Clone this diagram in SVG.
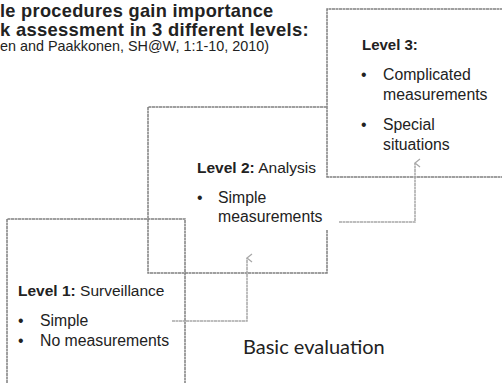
<svg xmlns="http://www.w3.org/2000/svg" width="502" height="383" viewBox="0 0 502 383">
<style>
.box{fill:none;stroke:#808080;stroke-width:1.5;stroke-dasharray:3 0.5}
.conn{fill:none;stroke:#a8a8a8;stroke-width:1.5;stroke-dasharray:3 0.5}
.t{font-family:"Liberation Sans",Arial,sans-serif;fill:#222}
.h{font-weight:bold}
.b{font-size:15.8px}
</style>
<defs>
<marker id="ah" markerWidth="10" markerHeight="10" refX="5" refY="1" orient="auto-start-reverse" markerUnits="userSpaceOnUse" viewBox="0 0 10 10">
<polyline points="1,6 5,1 9,6" fill="none" stroke="#a8a8a8" stroke-width="1.3"/>
</marker>
</defs>
<rect width="502" height="383" fill="#fff"/>
<g id="title" class="t h">
<text x="0" y="16.5" font-size="18.2" letter-spacing="0.3">le procedures gain importance</text>
<text x="0" y="35.5" font-size="18.4" letter-spacing="0.3">k assessment in 3 different levels:</text>
<text x="0" y="51" font-weight="normal" font-size="14.4">en and Paakkonen, SH@W, 1:1-10, 2010)</text>
</g>
<g id="level3">
<path class="box" d="M510,9 H327 V177 H510"/>
<text class="t h" x="362" y="50" font-size="15">Level 3:</text>
<text class="t b" x="361" y="80">•</text>
<text class="t b" x="383" y="80">Complicated</text>
<text class="t b" x="383" y="100">measurements</text>
<text class="t b" x="361" y="130">•</text>
<text class="t b" x="383" y="130">Special</text>
<text class="t b" x="383" y="150">situations</text>
</g>
<g id="level2">
<path class="box" d="M327,230 V273 H148 V107 H327"/>
<text class="t" x="197" y="173" font-size="15.5"><tspan font-weight="bold">Level 2:</tspan> Analysis</text>
<text class="t b" x="197" y="203">•</text>
<text class="t b" x="218" y="203">Simple</text>
<text class="t b" x="218" y="222">measurements</text>
</g>
<g id="level1">
<path class="box" d="M7,390 V219 H185 V390"/>
<text class="t" x="18" y="296" font-size="15.5"><tspan font-weight="bold">Level 1:</tspan> Surveillance</text>
<text class="t b" x="18" y="326">•</text>
<text class="t b" x="40" y="326">Simple</text>
<text class="t b" x="18" y="346">•</text>
<text class="t b" x="40" y="346">No measurements</text>
</g>
<g id="basic">
<text x="243" y="354" font-family="Lato,'Open Sans',sans-serif" font-size="20" fill="#222">Basic evaluation</text>
</g>
<g id="connectors">
<path class="conn" d="M172,321 H247 V258" marker-end="url(#ah)"/>
<path class="conn" d="M339,222 H415 V163" marker-end="url(#ah)"/>
</g>
</svg>
